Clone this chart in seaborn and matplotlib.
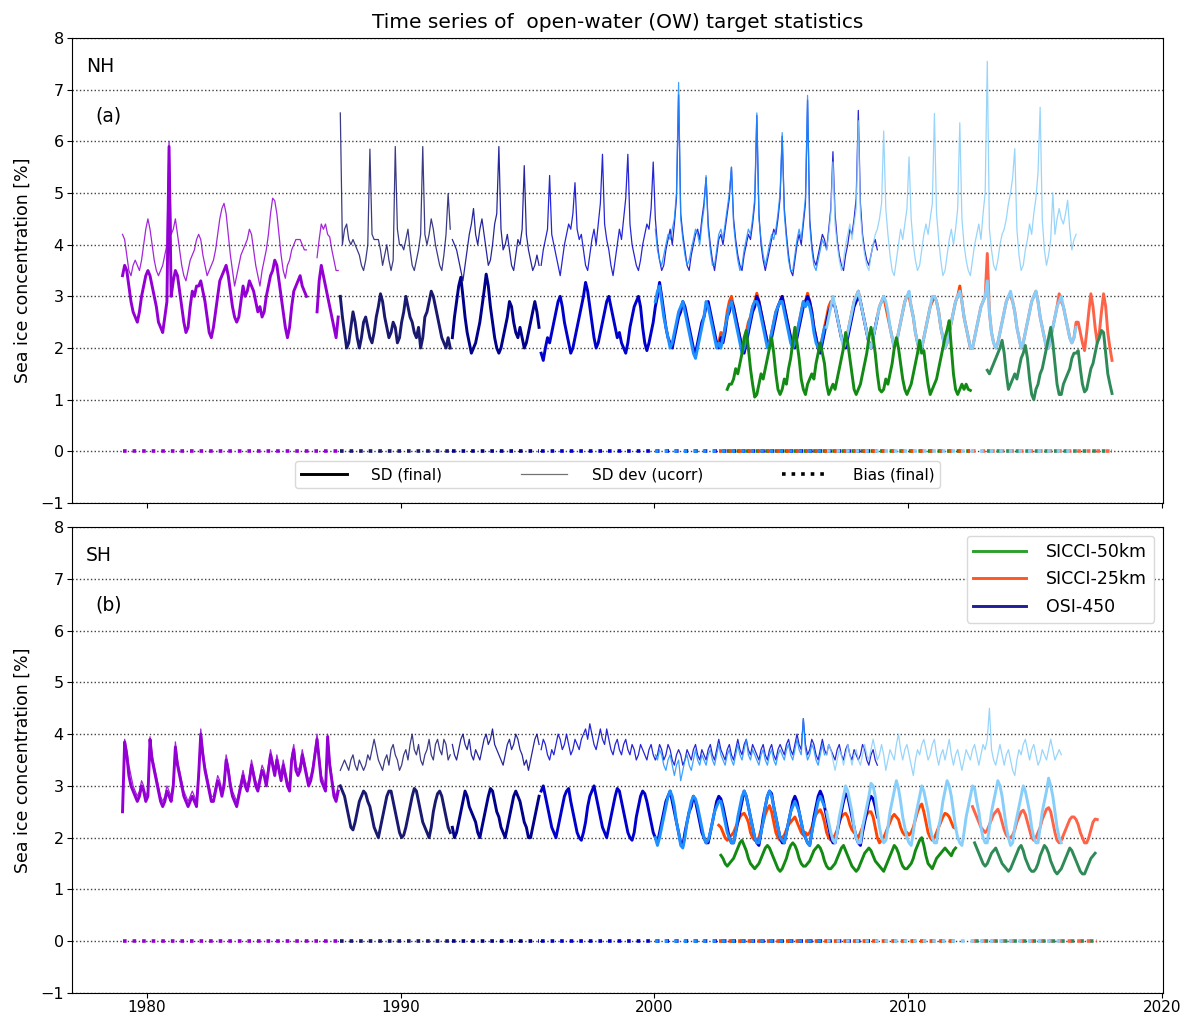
import numpy as np
import pandas as pd
import matplotlib
matplotlib.use("Agg")
import matplotlib.pyplot as plt
import seaborn as sns
from matplotlib.lines import Line2D

# ---------------- sensors / colours ----------------
SENSORS = ["SMMR", "F08", "F11", "F13", "F15", "F17"]
SENSOR_START = ["1979-01", "1987-08", "1992-01", "1995-07", "2000-01", "2006-10"]
SENSOR_COLORS = ["#9400d3", "#191970", "#00008b", "#0000cd", "#1e90ff", "#87cefa"]

SICCI_KEYS = ["S25a", "S25b", "S50a", "S50b"]
SICCI_COLORS = ["#ff4500", "#ff6347", "#138a13", "#2e8b57"]
NH_SICCI_START = ["2002-07", "2012-07", "2002-11", "2013-02"]
SH_SICCI_START = ["2002-07", "2012-07", "2002-08", "2012-08"]

NH_BIAS_LEVEL = [0.0, 0.0, 0.0, 0.0, 0.0, 0.0]
SH_BIAS_LEVEL = [0.0, 0.0, 0.0, 0.0, 0.0, 0.0]
SICCI_BIAS_LEVEL = [0.0, 0.0, 0.0, 0.0]

YTICKS = [-1, 0, 1, 2, 3, 4, 5, 6, 7, 8]
XTICKS = [1980, 1990, 2000, 2010, 2020]

# ---------------- NH : SD (final), monthly ----------------
NH_FINAL_SMMR = """
3.4 3.6 3.5 3.2 2.9 2.7 2.6 2.5 2.7 3.0 3.2 3.4
3.5 3.4 3.2 3.0 2.8 2.5 2.4 2.3 2.6 2.9 5.9 3.0
3.3 3.5 3.4 3.1 2.8 2.5 2.3 2.4 2.8 3.1 3.0 3.2
3.2 3.3 3.1 2.9 2.6 2.3 2.2 2.4 2.7 3.0 3.3 3.4
3.5 3.6 3.4 3.1 2.8 2.6 2.5 2.6 2.9 3.2 3.0 3.1
3.3 3.2 3.1 2.9 2.7 2.8 2.6 2.7 3.0 3.2 3.4 3.5
3.7 3.6 3.3 3.0 2.7 2.4 2.2 2.4 2.8 3.1 3.2 3.3
3.4 3.2 3.1 3.0 nan nan nan nan 2.7 3.3 3.6 3.4
3.2 3.0 2.8 2.6 2.4 2.2 2.6
"""
NH_FINAL_F08 = """
3.0 2.6 2.3 2.0 2.1
2.4 2.7 2.5 2.2 2.0 2.2 2.5 2.6 2.4 2.2 2.1 2.3
2.6 2.8 3.05 2.9 2.6 2.4 2.2 2.3 2.5 2.4 2.1 2.2
2.5 2.7 3.0 2.8 2.6 2.5 2.3 2.2 2.4 2.0 2.2 2.6
2.7 2.9 3.1 3.0 2.8 2.6 2.4 2.2 2.1 2.0 2.2 2.0
"""
NH_FINAL_F11 = """
2.2 2.6 2.9 3.2 3.37 3.0 2.6 2.3 2.1 1.9 2.0 2.1
2.3 2.5 2.8 3.1 3.43 3.2 2.8 2.5 2.2 2.0 1.9 2.0
2.2 2.4 2.6 2.9 2.8 2.5 2.3 2.2 2.4 2.2 2.0 2.1
2.3 2.5 2.7 2.9 2.7 2.4
"""
NH_FINAL_F13 = """
1.9 1.76 2.0 2.2 2.1 2.3
2.5 2.7 2.9 3.0 2.8 2.5 2.3 2.1 1.9 2.0 2.2 2.4
2.6 2.8 3.0 3.27 3.1 2.8 2.5 2.2 2.0 2.1 2.3 2.5
2.7 2.9 3.0 2.8 2.6 2.4 2.2 2.3 2.1 2.0 1.9 2.1
2.4 2.6 2.8 2.9 3.0 2.8 2.4 2.1 1.95 2.1 2.3 2.5
2.8 3.0 3.27 3.0 2.7 2.4 2.2 2.1 2.0 2.2 2.4 2.6
2.7 2.9 2.8 2.6 2.4 2.2 2.0 1.9 2.1 2.3 2.5 2.6
2.8 2.9 2.7 2.5 2.3 2.1 2.0 2.2 2.1 2.3 2.6 2.7
2.9 2.8 2.6 2.4 2.2 2.0 1.9 2.1 2.3 2.5 2.7 2.8
3.0 2.9 2.7 2.5 2.3 2.1 2.0 2.2 2.4 2.6 2.8 2.9
3.0 2.8 2.6 2.4 2.2 2.1 2.0 2.2 2.4 2.6 2.8 2.9
3.0 2.9 2.7 2.4 2.2 2.0 1.9 2.1 2.3 2.5 2.7 2.8
2.9 2.8 2.6 2.4 2.2 2.1 2.0 2.2 2.4 2.6 2.8 2.9
3.0 2.9 2.7 2.5 2.3 2.1 2.0 2.2 2.4 2.6
"""
NH_FINAL_F15 = """
2.9 3.1 3.2 2.9 2.6 2.4 2.2 2.0 2.1 2.3 2.5 2.7
2.8 2.9 2.7 2.5 2.3 2.1 1.9 1.8 2.0 2.2 2.4 2.6
2.9 2.8 2.6 2.4 2.2 2.0 2.1 2.0 2.2 2.4 2.6 2.8
2.9 2.7 2.5 2.3 2.1 1.9 2.0 2.2 2.4 2.6 2.8 2.9
2.9 2.8 2.6 2.4 2.2 2.0 2.1 2.3 2.5 2.7 2.8 2.9
2.9 2.7 2.5 2.3 2.1 2.0 2.1 2.3 2.5 2.7 2.9 2.8
2.9 2.8 2.6 2.3 2.1 2.0 2.0 2.2 2.4
"""
NH_FINAL_F17 = """
2.4 2.6 2.8
3.0 2.8 2.6 2.4 2.2 2.0 2.1 2.3 2.5 2.7 2.9 3.0
3.1 2.9 2.7 2.5 2.3 2.1 2.0 2.2 2.4 2.6 2.8 2.9
3.0 2.9 2.7 2.4 2.2 2.0 2.1 2.3 2.5 2.7 2.9 3.0
3.1 2.8 2.6 2.3 2.1 1.9 2.0 2.2 2.4 2.6 2.8 3.0
3.0 2.9 2.7 2.4 2.2 2.0 2.1 2.3 2.5 2.7 2.9 3.0
3.1 2.9 2.6 2.4 2.2 2.0 2.0 2.2 2.4 2.6 2.8 2.9
3.0 3.3 2.7 2.3 2.1 2.0 2.1 2.3 2.5 2.7 2.9 3.0
3.1 2.9 2.7 2.4 2.2 2.0 2.1 2.3 2.5 2.7 2.9 3.0
3.1 2.9 2.6 2.4 2.2 2.0 2.0 2.2 2.4 2.6 2.8 2.9
3.0 2.8 2.6 2.4 2.2 2.1 2.2 2.4
"""

# ---------------- NH : SD dev (ucorr), monthly ----------------
NH_DEV_SMMR = """
4.2 4.1 3.8 3.5 3.4 3.6 3.7 3.6 3.5 3.7 4.0 4.3
4.5 4.3 4.0 3.7 3.5 3.4 3.5 3.6 3.8 4.0 6.0 4.2
4.3 4.5 4.2 3.9 3.6 3.4 3.3 3.5 3.7 3.8 3.9 4.1
4.2 4.1 3.8 3.6 3.4 3.5 3.6 3.7 3.9 4.2 4.5 4.7
4.8 4.6 4.2 3.8 3.5 3.2 3.4 3.6 3.8 3.9 4.0 4.1
4.3 4.2 3.9 3.6 3.4 3.2 3.5 3.7 3.9 4.2 4.6 4.9
4.85 4.6 4.2 3.8 3.5 3.35 3.6 3.7 3.9 4.0 4.1 4.1
4.1 4.0 3.9 3.9 nan nan nan nan 3.75 4.1 4.4 4.3
4.4 4.2 4.15 3.9 3.7 3.5 3.5
"""
NH_DEV_F08 = """
6.55 4.0 4.3 4.4 4.1
4.0 4.1 4.0 3.9 3.8 3.6 3.5 3.7 4.0 5.85 4.2 4.1
4.1 4.1 3.9 3.6 3.8 4.0 3.7 3.5 3.7 5.9 4.3 4.0
4.0 3.9 4.1 4.3 3.9 3.6 3.5 3.7 3.9 4.2 5.9 4.2
4.0 4.2 4.5 4.3 4.0 3.8 3.6 3.5 3.8 4.2 4.99 4.3
"""
NH_DEV_F11 = """
4.1 4.0 3.9 3.7 3.5 3.3 3.6 3.9 4.2 4.4 4.7 4.2
4.0 4.3 4.5 4.2 3.9 3.6 3.7 4.0 4.4 4.6 5.9 4.3
3.9 4.0 4.2 3.9 3.6 3.5 3.8 4.1 4.0 4.3 5.53 4.2
3.9 3.7 3.5 3.6 3.8 3.6
"""
NH_DEV_F13 = """
3.6 3.9 4.1 4.3 5.34 4.2
4.0 3.8 3.6 3.4 3.7 4.0 4.2 4.4 4.3 4.6 5.2 4.3
4.1 4.2 3.9 3.6 3.5 3.8 4.1 4.3 4.0 4.4 4.8 5.75
4.4 4.1 3.9 3.6 3.4 3.7 4.0 4.3 4.1 4.5 4.9 5.75
4.4 4.0 3.8 3.6 3.5 3.7 4.0 4.2 4.4 4.3 4.7 5.6
4.5 4.0 3.7 3.5 3.6 3.9 4.1 4.3 4.0 4.4 4.9 6.9
4.6 4.2 3.9 3.6 3.5 3.8 4.0 4.2 4.3 4.1 4.5 4.8
5.3 4.4 4.0 3.7 3.5 3.8 4.1 4.2 4.0 4.3 4.6 4.9
5.5 4.5 4.1 3.8 3.6 3.5 3.8 4.0 4.2 4.1 4.4 4.8
6.5 4.6 4.0 3.7 3.5 3.7 3.9 4.1 4.3 4.2 4.5 4.9
6.1 4.7 4.2 3.8 3.5 3.4 3.7 4.0 4.2 4.0 4.4 4.8
6.8 4.5 4.0 3.7 3.6 3.8 4.0 4.2 4.1 3.9 4.3 4.7
5.8 4.6 4.1 3.8 3.6 3.5 3.8 4.0 4.3 4.2 4.5 4.9
6.6 4.8 4.2 3.9 3.7 3.6 3.8 4.0 4.1 3.9
"""
NH_DEV_F15 = """
4.3 3.9 3.7 3.6 3.8 4.0 4.2 4.1 4.3 4.5 5.0 7.14
4.5 4.1 3.8 3.6 3.7 3.9 4.1 4.3 4.2 4.0 4.4 4.7
5.34 4.3 3.9 3.6 3.6 3.9 4.2 4.3 4.1 4.4 4.7 5.0
5.5 4.4 4.0 3.7 3.5 3.6 3.9 4.1 4.3 4.2 4.5 4.9
6.55 4.5 4.1 3.8 3.6 3.8 4.0 4.2 4.1 4.3 4.6 5.0
6.17 4.6 4.1 3.7 3.5 3.5 3.8 4.1 4.3 4.1 4.5 4.9
6.89 4.4 3.9 3.6 3.5 3.7 3.9 4.1 4.0
"""
NH_DEV_F17 = """
3.9 4.2 4.6
5.6 4.4 4.0 3.7 3.5 3.7 4.0 4.2 4.4 4.1 4.4 4.7
6.4 4.6 4.1 3.8 3.6 3.5 3.8 4.0 4.2 4.3 4.5 4.8
6.2 4.7 4.2 3.8 3.5 3.4 3.7 4.0 4.3 4.1 4.4 4.7
5.7 4.5 4.0 3.7 3.5 3.6 3.9 4.2 4.4 4.2 4.5 4.8
6.54 4.6 4.1 3.7 3.4 3.5 3.8 4.1 4.3 4.0 4.3 4.7
6.36 4.5 4.0 3.7 3.5 3.4 3.7 4.0 4.2 4.4 4.1 4.6
5.0 7.55 4.3 3.9 3.6 3.5 3.7 4.0 4.2 4.3 4.5 4.8
5.0 5.3 5.86 4.3 3.8 3.5 3.6 3.9 4.1 4.4 4.2 4.6
4.9 5.4 6.66 4.5 3.9 3.6 3.8 4.1 5.0 4.2 4.5 4.7
4.5 4.4 4.6 4.86 4.3 3.9 4.1 4.2
"""

# ---------------- NH : SICCI ----------------
NH_S25_A = """
2.1 2.3 2.2 2.4 2.7 2.9
3.0 2.8 2.6 2.4 2.2 2.0 2.1 2.3 2.5 2.6 2.8 2.9
3.06 2.9 2.7 2.5 2.3 2.1 2.1 2.3 2.5 2.7 2.8 2.9
3.0 2.8 2.6 2.4 2.2 2.1 2.1 2.3 2.5 2.7 2.9 2.9
3.06 2.9 2.7 2.4 2.2 2.0 2.0 2.2 2.4 2.6 2.8 2.9
2.9 2.8 2.6 2.4 2.2 2.1 2.1 2.3 2.5 2.7 2.9 3.0
3.1 2.9 2.7 2.5 2.3 2.1 2.0 2.2 2.4 2.6 2.8 2.9
3.0 2.8 2.6 2.4 2.2 2.0 2.1 2.3 2.5 2.7 2.9 3.0
3.0 2.8 2.6 2.3 2.1 1.95 2.0 2.2 2.4 2.6 2.8 2.9
3.0 2.9 2.7 2.4 2.2 2.0 2.1 2.3 2.5 2.7 2.9 3.0
3.2 2.9 2.6 2.4 2.2 2.0
"""
NH_S25_B = """
2.0 2.2 2.4 2.6 2.8 2.9
3.0 3.83 2.7 2.3 2.1 2.0 2.1 2.3 2.5 2.7 2.9 3.0
3.0 2.9 2.7 2.4 2.2 2.0 2.1 2.3 2.5 2.7 2.9 3.0
3.1 2.9 2.6 2.4 2.2 2.0 2.0 2.2 2.4 2.6 2.8 3.05
2.9 2.8 2.6 2.4 2.2 2.1 2.2 2.5 2.5 2.3 2.1 1.95
2.3 2.7 3.05 2.8 2.4 2.1 2.3 2.7 3.05 2.8 2.3 2.0
1.76
"""
NH_S50_A = """
1.2 1.3
1.3 1.4 1.6 1.5 1.7 1.9 2.2 2.34 2.0 1.6 1.3 1.05
1.1 1.3 1.5 1.4 1.6 1.8 2.0 2.2 1.9 1.5 1.2 1.1
1.2 1.4 1.3 1.6 1.8 2.1 2.4 2.1 1.8 1.4 1.2 1.1
1.3 1.4 1.5 1.4 1.7 1.9 2.1 1.9 1.7 1.3 1.1 1.2
1.3 1.2 1.4 1.6 1.8 2.0 2.3 2.1 1.8 1.5 1.2 1.1
1.2 1.3 1.5 1.7 1.9 2.2 2.4 2.2 1.9 1.5 1.2 1.15
1.2 1.4 1.3 1.5 1.7 2.0 2.2 2.0 1.7 1.4 1.2 1.1
1.2 1.3 1.5 1.7 1.9 2.15 1.9 1.95 1.6 1.3 1.1 1.2
1.3 1.4 1.6 1.8 2.0 2.2 2.35 2.53 2.0 1.5 1.2 1.1
1.2 1.3 1.2 1.3 1.2 1.18
"""
NH_S50_B = """
1.57 1.5 1.6 1.7 1.8 1.9 2.0 2.15 1.9 1.5 1.2
1.3 1.4 1.5 1.4 1.6 1.8 1.9 2.05 1.8 1.4 1.1 1.0
1.2 1.3 1.5 1.6 1.8 2.0 2.2 2.4 2.1 1.7 1.3 1.1
1.1 1.3 1.4 1.5 1.6 1.8 1.9 1.9 1.95 1.6 1.3 1.15
1.2 1.4 1.6 1.7 1.9 2.1 2.2 2.34 2.3 1.9 1.5 1.3
1.12
"""

# ---------------- SH : SD (final), monthly ----------------
SH_FINAL_SMMR = """
2.5 3.85 3.6 3.2 3.0 2.9 2.8 2.7 2.8 3.0 2.9 2.7
2.8 3.9 3.5 3.3 3.1 2.9 2.7 2.6 2.7 2.9 2.8 2.7
3.0 3.75 3.4 3.2 3.0 2.8 2.7 2.6 2.7 2.8 2.7 2.6
3.2 4.0 3.6 3.3 3.1 2.9 2.7 2.7 2.9 3.1 3.0 2.8
3.0 3.5 3.3 3.0 2.8 2.7 2.6 2.8 3.0 3.2 3.0 2.9
3.1 3.4 3.2 3.0 2.9 3.1 3.3 3.2 3.0 3.3 3.6 3.4
3.2 3.5 3.3 3.1 3.4 3.2 3.0 2.9 3.5 3.7 3.3 3.2
3.3 3.6 3.4 3.2 3.0 3.1 3.3 3.6 3.9 3.5 3.1 3.0
2.9 3.95 3.4 3.1 2.8 2.7 2.9
"""
SH_FINAL_F08 = """
3.0 2.9 2.8 2.6 2.4
2.2 2.15 2.3 2.5 2.7 2.8 2.9 2.85 2.7 2.6 2.4 2.2
2.1 2.0 2.2 2.4 2.6 2.8 2.9 2.9 2.7 2.5 2.3 2.1
2.0 2.05 2.2 2.4 2.6 2.8 2.95 2.9 2.7 2.5 2.3 2.2
2.1 2.0 2.2 2.5 2.7 2.85 2.9 2.8 2.6 2.4 2.2 2.1
"""
SH_FINAL_F11 = """
2.2 2.0 2.1 2.3 2.5 2.7 2.9 2.8 2.6 2.5 2.4 2.3
2.1 2.0 2.2 2.4 2.6 2.8 2.95 2.9 2.7 2.5 2.4 2.2
2.1 2.0 2.2 2.4 2.6 2.8 2.9 2.8 2.7 2.5 2.3 2.2
2.0 2.0 2.2 2.4 2.6 2.8
"""
SH_FINAL_F13 = """
2.9 3.0 2.8 2.6 2.4 2.2
2.1 2.0 2.2 2.4 2.6 2.8 2.9 2.95 2.7 2.5 2.3 2.1
2.0 1.95 2.1 2.3 2.6 2.8 2.9 3.0 2.8 2.6 2.4 2.2
2.1 2.0 2.2 2.4 2.6 2.8 2.95 2.9 2.7 2.5 2.3 2.1
2.0 1.95 2.1 2.4 2.6 2.8 2.9 2.85 2.7 2.5 2.3 2.1
2.0 1.9 2.1 2.3 2.5 2.7 2.8 2.9 2.7 2.5 2.3 2.1
1.9 1.85 2.1 2.3 2.5 2.6 2.8 2.7 2.5 2.3 2.1 2.0
1.9 1.9 2.1 2.3 2.5 2.7 2.8 2.75 2.6 2.4 2.2 2.0
1.9 1.9 2.1 2.3 2.5 2.7 2.9 2.8 2.6 2.4 2.2 2.0
1.9 1.85 2.1 2.4 2.6 2.8 2.9 2.85 2.6 2.4 2.2 2.0
1.9 1.9 2.1 2.3 2.5 2.7 2.8 2.7 2.5 2.3 2.1 2.0
1.9 1.85 2.1 2.4 2.6 2.8 2.9 2.8 2.6 2.4 2.2 2.0
1.9 1.9 2.1 2.3 2.5 2.7 2.85 2.8 2.6 2.4 2.2 2.0
1.9 1.85 2.1 2.3 2.5 2.7 2.8 2.75 2.6 2.4
"""
SH_FINAL_F15 = """
2.0 1.85 2.0 2.2 2.4 2.6 2.8 2.9 2.8 2.6 2.3 2.1
1.85 1.8 2.0 2.3 2.5 2.7 2.8 2.75 2.6 2.4 2.2 2.0
1.9 1.95 2.1 2.3 2.5 2.6 2.7 2.7 2.5 2.3 2.1 2.0
1.9 1.9 2.1 2.4 2.6 2.8 2.9 2.8 2.6 2.4 2.2 2.0
1.9 1.9 2.1 2.3 2.6 2.8 2.9 2.8 2.6 2.4 2.2 2.0
1.95 1.9 2.1 2.3 2.5 2.6 2.7 2.6 2.5 2.3 2.1 2.0
1.9 1.85 2.1 2.3 2.5 2.7 2.8 2.7 2.6
"""
SH_FINAL_F17 = """
2.5 2.3 2.1
1.95 1.9 2.1 2.4 2.6 2.8 3.0 2.9 2.7 2.5 2.2 2.0
1.9 1.9 2.2 2.4 2.6 2.8 3.05 3.0 2.8 2.5 2.2 2.0
1.9 1.95 2.2 2.5 2.7 2.9 3.1 2.95 2.7 2.4 2.2 2.0
1.9 1.85 2.1 2.4 2.6 2.8 3.0 2.9 2.7 2.5 2.2 2.0
1.9 1.9 2.2 2.4 2.7 2.9 3.1 3.0 2.8 2.5 2.2 2.0
1.9 1.85 2.1 2.4 2.6 2.8 3.0 2.95 2.7 2.5 2.2 2.0
1.9 1.9 2.2 2.5 2.7 2.9 3.1 3.0 2.8 2.5 2.2 2.0
1.85 1.9 2.2 2.4 2.6 2.8 3.0 2.9 2.7 2.5 2.2 2.0
1.9 1.9 2.2 2.5 2.7 2.9 3.15 3.0 2.8 2.5 2.2 2.0
1.9
"""

# ---------------- SH : SD dev (ucorr), monthly ----------------
SH_DEV_SMMR = """
2.6 3.9 3.7 3.4 3.2 3.0 2.9 2.8 2.9 3.1 3.0 2.8
2.9 3.95 3.6 3.4 3.2 3.0 2.8 2.7 2.8 3.0 2.9 2.8
3.1 3.85 3.5 3.3 3.1 2.9 2.8 2.7 2.8 2.9 2.8 2.7
3.3 4.1 3.7 3.4 3.2 3.0 2.8 2.8 3.0 3.2 3.1 2.9
3.1 3.6 3.4 3.1 2.9 2.8 2.7 2.9 3.1 3.3 3.1 3.0
3.2 3.5 3.3 3.1 3.0 3.2 3.4 3.3 3.1 3.4 3.7 3.5
3.3 3.6 3.4 3.2 3.5 3.3 3.1 3.0 3.6 3.8 3.4 3.3
3.4 3.7 3.5 3.3 3.1 3.2 3.4 3.7 4.0 3.6 3.2 3.1
3.0 4.0 3.5 3.2 2.9 2.8 3.0
"""
SH_DEV_F08 = """
3.3 3.4 3.5 3.4 3.3
3.5 3.6 3.4 3.3 3.5 3.4 3.3 3.4 3.6 3.5 3.7 3.9
3.7 3.5 3.4 3.3 3.5 3.6 3.4 3.7 3.8 3.6 3.5 3.3
3.4 3.6 3.7 3.5 3.8 4.0 3.7 3.6 3.8 3.5 3.4 3.6
3.7 3.9 3.6 3.5 3.8 3.9 3.7 3.6 3.9 3.8 3.5 3.6
"""
SH_DEV_F11 = """
3.8 3.6 3.5 3.7 3.9 4.0 3.8 3.7 3.9 3.6 3.5 3.7
3.6 3.5 3.7 3.9 4.0 3.8 3.9 4.1 3.8 3.7 3.6 3.5
3.4 3.6 3.8 3.9 3.7 3.8 4.0 3.9 3.7 3.6 3.4 3.5
3.3 3.5 3.7 3.9 4.0 3.8
"""
SH_DEV_F13 = """
3.7 3.9 3.8 3.6 3.5 3.7
3.6 3.8 4.0 3.9 3.7 3.8 4.0 3.8 3.6 3.7 3.9 3.8
3.7 3.9 4.0 4.1 3.9 4.2 4.0 3.8 3.7 3.9 4.1 3.9
3.8 4.1 3.9 3.7 3.6 3.8 3.9 3.7 3.6 3.8 3.9 3.7
3.6 3.8 3.7 3.5 3.6 3.8 3.7 3.6 3.5 3.7 3.8 3.6
3.5 3.6 3.8 3.7 3.5 3.6 3.8 3.7 3.5 3.4 3.6 3.7
3.6 3.4 3.5 3.7 3.6 3.5 3.7 3.8 3.6 3.5 3.7 3.6
3.5 3.7 3.8 3.6 3.5 3.7 3.9 3.7 3.6 3.5 3.7 3.8
3.6 3.5 3.7 3.9 3.7 3.6 3.8 3.9 3.7 3.6 3.8 3.7
3.6 3.5 3.7 3.8 3.6 3.5 3.7 3.8 3.6 3.5 3.7 3.8
3.7 3.6 3.8 3.9 3.7 3.6 3.8 4.0 3.8 3.7 4.3 3.8
3.6 3.7 3.9 3.8 3.6 3.5 3.7 3.9 3.7 3.6 3.8 3.7
3.6 3.5 3.7 3.8 3.6 3.5 3.7 3.8 3.6 3.5 3.7 3.6
3.5 3.6 3.8 3.7 3.5 3.4 3.6 3.7 3.5 3.4
"""
SH_DEV_F15 = """
3.6 3.5 3.7 3.6 3.4 3.3 3.5 3.6 3.4 3.2 3.4 3.5
3.1 3.3 3.5 3.6 3.4 3.3 3.5 3.7 3.5 3.4 3.6 3.5
3.4 3.6 3.7 3.5 3.4 3.6 3.8 3.6 3.5 3.4 3.6 3.7
3.5 3.4 3.6 3.8 3.6 3.5 3.7 3.9 3.6 3.5 3.7 3.6
3.5 3.4 3.6 3.7 3.5 3.4 3.6 3.7 3.5 3.4 3.6 3.7
3.6 3.5 3.7 3.8 3.6 3.5 3.7 3.9 3.7 3.6 4.3 3.7
3.5 3.6 3.8 3.7 3.5 3.4 3.6 3.8 3.6
"""
SH_DEV_F17 = """
3.6 3.8 3.7
3.5 3.3 3.5 3.7 3.6 3.4 3.6 3.8 3.6 3.4 3.6 3.7
3.5 3.4 3.6 3.8 3.6 3.5 3.7 3.9 3.7 3.5 3.6 3.8
3.6 3.3 3.5 3.7 3.6 3.5 3.8 4.0 3.7 3.5 3.7 3.8
3.6 3.4 3.2 3.5 3.7 3.6 3.8 3.9 3.7 3.5 3.6 3.8
3.9 3.6 3.4 3.6 3.7 3.5 3.7 3.9 3.6 3.4 3.6 3.7
3.5 3.3 3.5 3.7 3.6 3.5 3.7 3.8 3.6 3.4 3.6 3.8
3.7 3.9 4.5 3.7 3.5 3.4 3.6 3.8 3.6 3.4 3.6 3.7
3.5 3.3 3.2 3.5 3.7 3.6 3.8 3.9 3.7 3.5 3.7 3.8
3.6 3.4 3.5 3.7 3.6 3.5 3.7 3.9 3.7 3.5 3.6 3.7
3.6
"""

# ---------------- SH : SICCI ----------------
SH_S25_A = """
2.24 2.2 2.1 2.0 1.95 2.0
2.05 2.1 2.2 2.3 2.4 2.45 2.47 2.4 2.3 2.1 2.0 1.95
1.95 2.0 2.15 2.3 2.45 2.55 2.62 2.5 2.3 2.1 2.0 1.95
2.0 2.05 2.15 2.25 2.3 2.35 2.4 2.3 2.2 2.1 2.05 2.1
2.05 2.1 2.2 2.35 2.45 2.5 2.54 2.45 2.3 2.1 2.0 1.95
2.0 2.05 2.15 2.3 2.4 2.45 2.47 2.4 2.25 2.15 2.1 2.05
2.0 2.1 2.2 2.35 2.45 2.5 2.5 2.4 2.2 2.0 1.9 1.95
2.0 2.1 2.2 2.3 2.4 2.45 2.4 2.35 2.2 2.1 2.05 2.1
2.05 2.1 2.2 2.35 2.5 2.6 2.65 2.5 2.3 2.1 2.0 1.95
2.0 2.1 2.2 2.3 2.4 2.47 2.45 2.4 2.3 2.2 2.18
"""
SH_S25_B = """
2.6 2.5 2.4 2.3 2.2 2.15
2.1 2.15 2.25 2.35 2.45 2.5 2.55 2.45 2.3 2.15 2.05 2.0
2.0 2.05 2.15 2.3 2.4 2.5 2.53 2.45 2.3 2.15 2.0 1.95
2.0 2.1 2.2 2.35 2.45 2.55 2.58 2.5 2.3 2.1 1.95 1.9
1.95 2.05 2.15 2.25 2.35 2.4 2.4 2.35 2.25 2.1 2.0 1.9
1.9 2.0 2.15 2.3 2.36 2.35
"""
SH_S50_A = """
1.66 1.6 1.5 1.45 1.5
1.55 1.6 1.7 1.8 1.9 1.95 1.85 1.75 1.6 1.5 1.45 1.4
1.45 1.5 1.6 1.7 1.8 1.85 1.8 1.7 1.6 1.5 1.4 1.35
1.4 1.5 1.6 1.75 1.85 1.9 1.85 1.75 1.6 1.5 1.45 1.45
1.5 1.55 1.65 1.75 1.8 1.85 1.8 1.7 1.55 1.45 1.4 1.4
1.45 1.5 1.6 1.7 1.8 1.85 1.75 1.65 1.55 1.45 1.4 1.35
1.4 1.5 1.6 1.7 1.75 1.8 1.75 1.65 1.55 1.5 1.45 1.4
1.35 1.45 1.55 1.65 1.75 1.85 1.8 1.7 1.55 1.45 1.4 1.4
1.45 1.5 1.6 1.75 1.85 1.95 2.0 1.85 1.65 1.5 1.45 1.4
1.5 1.6 1.65 1.7 1.75 1.8 1.75 1.7 1.65 1.75 1.8
"""
SH_S50_B = """
1.9 1.8 1.7 1.6 1.5
1.45 1.5 1.6 1.7 1.75 1.8 1.7 1.6 1.5 1.45 1.4 1.35
1.4 1.5 1.6 1.7 1.8 1.85 1.75 1.6 1.5 1.4 1.35 1.35
1.4 1.5 1.65 1.75 1.85 1.8 1.7 1.55 1.45 1.35 1.3 1.35
1.4 1.5 1.6 1.7 1.8 1.75 1.65 1.55 1.45 1.35 1.3 1.3
1.4 1.5 1.6 1.65 1.7
"""

TITLE = "Time series of  open-water (OW) target statistics"
YLABEL = "Sea ice concentration [%]"


# ---------------- helpers ----------------
def parse(vals):
    return np.array([float(t) for t in vals.split()])


def month_axis(start, n):
    y0, m0 = (int(p) for p in start.split("-"))
    return y0 + (m0 - 1 + 0.5 + np.arange(n)) / 12.0


def frame(parts):
    out = []
    for key, vals, start in parts:
        v = parse(vals)
        t = month_axis(start, len(v))
        run = np.cumsum(np.isnan(v))
        out.append(pd.DataFrame({"t": t, "v": v, "key": key, "run": run}).dropna())
    return pd.concat(out, ignore_index=True)


def bias_frame(parts):
    out = []
    for key, vals, start, level in parts:
        v = parse(vals)
        t = month_axis(start, len(v))[~np.isnan(v)]
        out.append(pd.DataFrame({"t": t, "v": np.full(len(t), level), "key": key, "run": 0}))
    return pd.concat(out, ignore_index=True)


PAL = dict(zip(SENSORS, SENSOR_COLORS))
PAL.update(dict(zip(SICCI_KEYS, SICCI_COLORS)))
THICK_ORDER = ["S25a", "S25b"] + SENSORS + ["S50a", "S50b"]

NH = dict(
    final=[NH_FINAL_SMMR, NH_FINAL_F08, NH_FINAL_F11, NH_FINAL_F13, NH_FINAL_F15, NH_FINAL_F17],
    dev=[NH_DEV_SMMR, NH_DEV_F08, NH_DEV_F11, NH_DEV_F13, NH_DEV_F15, NH_DEV_F17],
    sicci=[NH_S25_A, NH_S25_B, NH_S50_A, NH_S50_B],
    sicci_start=NH_SICCI_START, bias=NH_BIAS_LEVEL, name="NH", tag="(a)")
SH = dict(
    final=[SH_FINAL_SMMR, SH_FINAL_F08, SH_FINAL_F11, SH_FINAL_F13, SH_FINAL_F15, SH_FINAL_F17],
    dev=[SH_DEV_SMMR, SH_DEV_F08, SH_DEV_F11, SH_DEV_F13, SH_DEV_F15, SH_DEV_F17],
    sicci=[SH_S25_A, SH_S25_B, SH_S50_A, SH_S50_B],
    sicci_start=SH_SICCI_START, bias=SH_BIAS_LEVEL, name="SH", tag="(b)")

# ---------------- figure ----------------
fig = plt.figure(figsize=(11.9, 10.17), dpi=100)
ax1 = fig.add_axes([0.0605, 0.5054, 0.9168, 0.4572])
ax2 = fig.add_axes([0.0605, 0.0236, 0.9168, 0.4582], sharex=ax1)

for ax, H in ((ax1, NH), (ax2, SH)):
    final_parts = [(k, v, s) for k, v, s in zip(SENSORS, H["final"], SENSOR_START)]
    final_parts += [(k, v, s) for k, v, s in zip(SICCI_KEYS, H["sicci"], H["sicci_start"])]
    dev_parts = [(k, v, s) for k, v, s in zip(SENSORS, H["dev"], SENSOR_START)]
    bias_parts = [(k, v, s, b) for k, v, s, b in zip(SICCI_KEYS, H["sicci"], H["sicci_start"], SICCI_BIAS_LEVEL)]
    bias_parts += [(k, v, s, b) for k, v, s, b in zip(SENSORS, H["final"], SENSOR_START, H["bias"])]

    df_final = frame(final_parts)
    df_dev = frame(dev_parts)
    df_bias = bias_frame(bias_parts)

    ax.grid(axis="y", linestyle=":", color="0.25", linewidth=1.0, zorder=0)
    ax.set_axisbelow(True)

    sns.lineplot(data=df_bias, x="t", y="v", hue="key", units="run", estimator=None,
                 palette=PAL, hue_order=["S50a", "S50b", "S25a", "S25b"] + SENSORS,
                 linewidth=2.6, linestyle=":", legend=False, ax=ax, sort=False)
    sns.lineplot(data=df_final, x="t", y="v", hue="key", units="run", estimator=None,
                 palette=PAL, hue_order=THICK_ORDER, linewidth=2.1, legend=False,
                 ax=ax, sort=False)
    sns.lineplot(data=df_dev, x="t", y="v", hue="key", units="run", estimator=None,
                 palette=PAL, hue_order=SENSORS, linewidth=0.9, alpha=0.85,
                 legend=False, ax=ax, sort=False)

    ax.set_ylim(-1, 8)
    ax.set_yticks(YTICKS)
    ax.set_ylabel(YLABEL, fontsize=12.5)
    ax.set_xlabel("")
    ax.tick_params(labelsize=11.5, pad=2.5)
    ax.text(0.013, 0.938, H["name"], transform=ax.transAxes, fontsize=13.5, va="center")
    ax.text(0.021, 0.832, H["tag"], transform=ax.transAxes, fontsize=13.5, va="center")

ax1.set_xlim(1977.05, 2020.05)
ax1.set_xticks(XTICKS)
ax1.tick_params(labelbottom=False)
ax2.set_xticks(XTICKS)
ax2.set_xticklabels([str(x) for x in XTICKS])
ax2.tick_params(axis="x", pad=1.5, labelsize=11)
ax1.yaxis.set_label_coords(-0.037, 0.5)
ax2.yaxis.set_label_coords(-0.037, 0.5)

fig.text(0.519, 0.978, TITLE, ha="center", va="center", fontsize=14.5)

h1 = [Line2D([], [], color="black", lw=2.1),
      Line2D([], [], color="0.45", lw=0.9),
      Line2D([], [], color="black", lw=2.6, linestyle=":")]
leg1 = ax1.legend(h1, ["SD (final)", "SD dev (ucorr)", "Bias (final)"], ncol=3,
                  loc="lower center", bbox_to_anchor=(0.5, 0.015), fontsize=11,
                  handlelength=3.0, handletextpad=1.6, columnspacing=5.2,
                  framealpha=1.0, edgecolor="0.85")

h2 = [Line2D([], [], color="#2ca02c", lw=2.1),
      Line2D([], [], color="#ff5722", lw=2.1),
      Line2D([], [], color="#1f1f99", lw=2.1)]
ax2.legend(h2, ["SICCI-50km", "SICCI-25km", "OSI-450"], loc="upper right",
           fontsize=12.5, handlelength=3.0, handletextpad=1.2, labelspacing=0.55,
           framealpha=1.0, edgecolor="0.85")

fig.savefig("out.png", dpi=100)
